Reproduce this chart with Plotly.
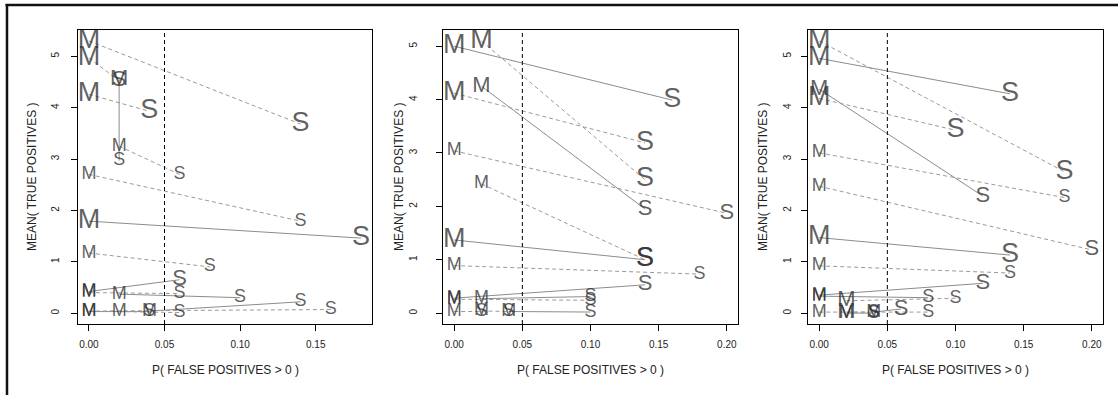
import plotly.graph_objects as go

FONT = "Liberation Sans, Arial, Helvetica, sans-serif"

# ---------------- data ----------------
# Panel 1
P1_M_X = [0, 0, 0.02, 0.02, 0, 0, 0, 0, 0, 0, 0.02, 0, 0.02, 0.04, 0]
P1_M_Y = [5.30, 4.97, 4.55, 3.25, 4.26, 2.70, 1.79, 1.17, 0.42, 0.40, 0.37, 0.03, 0.03, 0.04, 0.04]
P1_S_X = [0.14, 0.02, 0.02, 0.06, 0.04, 0.14, 0.18, 0.08, 0.06, 0.06, 0.10, 0.04, 0.06, 0.14, 0.16]
P1_S_Y = [3.68, 4.52, 2.97, 2.70, 3.93, 1.79, 1.46, 0.90, 0.65, 0.38, 0.30, 0.03, 0.01, 0.22, 0.07]
P1_SOLID = [0, 0, 1, 0, 0, 0, 1, 0, 1, 0, 1, 1, 0, 1, 0]
P1_M_W = [3, 3, 2, 1, 3, 1, 3, 1, 1, 1, 1, 1, 1, 1, 1]
P1_S_W = [3, 2, 1, 1, 3, 1, 3, 1, 2, 1, 1, 1, 1, 1, 1]

# Panel 2
P2_M_X = [0, 0.02, 0.02, 0, 0, 0.02, 0, 0, 0, 0, 0.02, 0, 0.02, 0.04]
P2_M_Y = [5.00, 5.10, 4.25, 4.12, 3.04, 2.42, 1.37, 0.89, 0.28, 0.26, 0.27, 0.03, 0.04, 0.03]
P2_S_X = [0.16, 0.14, 0.14, 0.14, 0.20, 0.14, 0.14, 0.18, 0.14, 0.10, 0.10, 0.02, 0.04, 0.10]
P2_S_Y = [3.99, 2.50, 1.95, 3.19, 1.87, 1.00, 1.00, 0.73, 0.53, 0.24, 0.31, 0.03, 0.03, 0.02]
P2_SOLID = [1, 0, 1, 0, 0, 0, 1, 0, 1, 0, 1, 0, 0, 1]
P2_M_W = [3, 3, 2, 3, 1, 1, 3, 1, 1, 1, 1, 1, 1, 1]
P2_S_W = [3, 3, 2, 3, 2, 3, 3, 1, 2, 1, 1, 1, 1, 1]

# Panel 3
P3_M_X = [0, 0, 0, 0, 0, 0, 0, 0, 0, 0, 0.02, 0, 0.02, 0.04, 0.02]
P3_M_Y = [5.30, 4.96, 4.36, 4.18, 3.12, 2.47, 1.47, 0.92, 0.35, 0.33, 0.24, 0.02, 0.02, 0.02, 0.00]
P3_S_X = [0.18, 0.14, 0.12, 0.10, 0.18, 0.20, 0.14, 0.14, 0.12, 0.08, 0.10, 0.04, 0.08, 0.06, 0.04]
P3_S_Y = [2.75, 4.27, 2.28, 3.56, 2.25, 1.23, 1.13, 0.78, 0.58, 0.30, 0.29, 0.02, 0.02, 0.08, 0.00]
P3_SOLID = [0, 1, 1, 0, 0, 0, 1, 0, 1, 1, 0, 0, 0, 1, 1]
P3_M_W = [3, 3, 2, 3, 1, 1, 3, 1, 1, 1, 2, 1, 2, 1, 1]
P3_S_W = [3, 3, 2, 3, 1, 2, 3, 1, 2, 1, 1, 1, 1, 2, 1]

X_MAX = [0.18, 0.20, 0.20]
Y_MAX = [5.30, 5.10, 5.30]
X_TICKS = [[0, 0.05, 0.10, 0.15], [0, 0.05, 0.10, 0.15, 0.20], [0, 0.05, 0.10, 0.15, 0.20]]
Y_TICKS = [0, 1, 2, 3, 4, 5]
THRESHOLD = 0.05
X_TITLE = "P( FALSE POSITIVES > 0 )"
Y_TITLE = "MEAN( TRUE POSITIVES )"

PANELS = [
    (P1_M_X, P1_M_Y, P1_S_X, P1_S_Y, P1_SOLID, P1_M_W, P1_S_W),
    (P2_M_X, P2_M_Y, P2_S_X, P2_S_Y, P2_SOLID, P2_M_W, P2_S_W),
    (P3_M_X, P3_M_Y, P3_S_X, P3_S_Y, P3_SOLID, P3_M_W, P3_S_W),
]

# ---------------- layout geometry (pixels) ----------------
W, H = 1118, 395
BOX_X = [(78, 372), (443.3, 737.7), (808.3, 1102.7)]
BOX_Y = (30, 324)
YTITLE_X = [32, 399, 763]
YLAB_STANDOFF = [8, 15, 6]

SIZE_OF = {1: 18, 2: 22, 3: 27}
LETTER_COLOR = "rgba(45,45,45,0.76)"
SOLID_COLOR = "#8c8c8c"
DASH_COLOR = "#9a9a9a"

fig = go.Figure()
layout = {}
shapes = []
annotations = []

for i, (mx, my, sx, sy, solid, mw, sw) in enumerate(PANELS):
    suf = "" if i == 0 else str(i + 1)
    xa, ya = "x" + suf, "y" + suf
    for j in range(len(mx)):
        fig.add_trace(go.Scatter(
            x=[mx[j], sx[j]], y=[my[j], sy[j]], mode="lines",
            line=dict(color=SOLID_COLOR if solid[j] else DASH_COLOR, width=1,
                      dash="solid" if solid[j] else "4px,3px"),
            xaxis=xa, yaxis=ya, showlegend=False, hoverinfo="skip"))
    fig.add_trace(go.Scatter(
        x=mx, y=my, mode="text", text=["M"] * len(mx), textposition="middle center",
        textfont=dict(family=FONT, size=[SIZE_OF[w] for w in mw], color=LETTER_COLOR),
        xaxis=xa, yaxis=ya, showlegend=False, hoverinfo="skip"))
    fig.add_trace(go.Scatter(
        x=sx, y=sy, mode="text", text=["S"] * len(sx), textposition="middle center",
        textfont=dict(family=FONT, size=[SIZE_OF[w] for w in sw], color=LETTER_COLOR),
        xaxis=xa, yaxis=ya, showlegend=False, hoverinfo="skip"))

    xpad = 0.04 * X_MAX[i]
    ypad = 0.04 * Y_MAX[i]
    x0, x1 = BOX_X[i]
    common = dict(showline=True, mirror=True, linecolor="black", linewidth=1,
                  ticks="outside", ticklen=6, tickwidth=1, tickcolor="black",
                  showgrid=False, zeroline=False,
                  tickfont=dict(family=FONT, size=10, color="#222"))
    layout["xaxis" + suf] = dict(
        domain=[x0 / W, x1 / W], anchor=ya, range=[-xpad, X_MAX[i] + xpad],
        tickvals=X_TICKS[i], ticktext=["%.2f" % v for v in X_TICKS[i]],
        ticklabelstandoff=5, **common)
    layout["yaxis" + suf] = dict(
        domain=[1 - BOX_Y[1] / H, 1 - BOX_Y[0] / H], anchor=xa,
        range=[-ypad, Y_MAX[i] + ypad], tickvals=Y_TICKS,
        ticktext=[str(v) for v in Y_TICKS], tickangle=-90,
        ticklabelstandoff=YLAB_STANDOFF[i], **common)

    shapes.append(dict(type="line", xref=xa, yref=ya + " domain",
                       x0=THRESHOLD, x1=THRESHOLD, y0=0, y1=1,
                       line=dict(color="black", width=1, dash="4px,3px")))
    annotations.append(dict(text=X_TITLE, xref="paper", yref="paper",
                            x=(x0 + x1) / 2 / W, y=1 - 370 / H, showarrow=False,
                            xanchor="center", yanchor="middle",
                            font=dict(family=FONT, size=12, color="#222")))
    annotations.append(dict(text=Y_TITLE, xref="paper", yref="paper",
                            x=YTITLE_X[i] / W, y=1 - (BOX_Y[0] + BOX_Y[1]) / 2 / H,
                            showarrow=False, textangle=-90,
                            xanchor="center", yanchor="middle",
                            font=dict(family=FONT, size=12, color="#222")))

# outer frame (top and left edges)
shapes.append(dict(type="line", xref="paper", yref="paper",
                   x0=5.5 / W, x1=1, y0=1 - 5 / H, y1=1 - 5 / H,
                   line=dict(color="#111", width=2.5)))
shapes.append(dict(type="line", xref="paper", yref="paper",
                   x0=7 / W, x1=7 / W, y0=0, y1=1 - 4 / H,
                   line=dict(color="#111", width=2.5)))

fig.update_layout(
    width=W, height=H, margin=dict(l=0, r=0, t=0, b=0),
    paper_bgcolor="white", plot_bgcolor="white",
    shapes=shapes, annotations=annotations, showlegend=False,
    **layout)

fig.write_html("out.html")
